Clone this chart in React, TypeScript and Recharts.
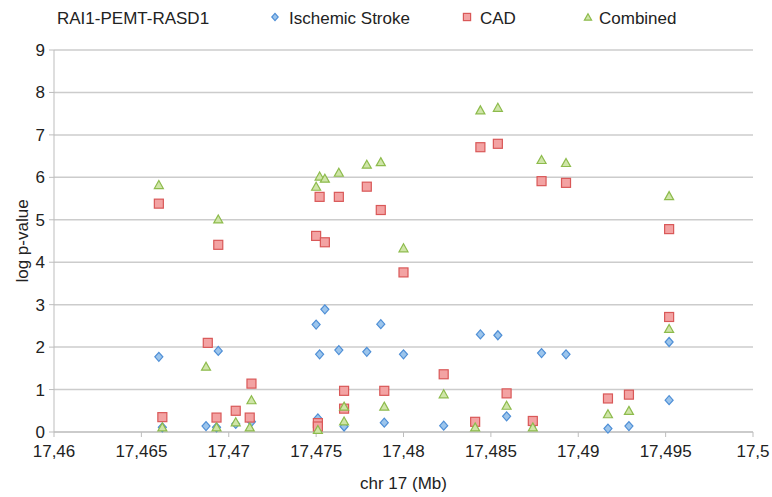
import React from "react";
import {
  ScatterChart,
  Scatter,
  XAxis,
  YAxis,
  CartesianGrid,
  Legend,
} from "recharts";

const TITLE = "RAI1-PEMT-RASD1";

const X_TICKS = [17.46, 17.465, 17.47, 17.475, 17.48, 17.485, 17.49, 17.495, 17.5];
const Y_TICKS = [0, 1, 2, 3, 4, 5, 6, 7, 8, 9];

// positions in Mb, values in log p
const strokeX = [
  17.466, 17.4662, 17.4687, 17.4694, 17.4693, 17.4704, 17.4713, 17.475, 17.4755,
  17.4752, 17.4763, 17.4751, 17.4766, 17.4779, 17.4787, 17.4789, 17.48, 17.4823,
  17.4841, 17.4844, 17.4854, 17.4859, 17.4874, 17.4879, 17.4893, 17.4917,
  17.4929, 17.4952, 17.4952,
];
const strokeY = [
  1.77, 0.11, 0.14, 1.91, 0.11, 0.19, 0.24, 2.53, 2.89, 1.83, 1.93, 0.32, 0.13,
  1.89, 2.54, 0.22, 1.83, 0.15, 0.2, 2.3, 2.28, 0.37, 0.18, 1.86, 1.83, 0.08,
  0.14, 2.12, 0.75,
];

const cadX = [
  17.466, 17.4662, 17.4688, 17.4694, 17.4693, 17.4704, 17.4713, 17.4712, 17.475,
  17.4755, 17.4752, 17.4763, 17.4751, 17.4751, 17.4766, 17.4766, 17.4779,
  17.4787, 17.4789, 17.48, 17.4823, 17.4841, 17.4844, 17.4854, 17.4859, 17.4874,
  17.4879, 17.4893, 17.4917, 17.4929, 17.4952, 17.4952,
];
const cadY = [
  5.38, 0.35, 2.1, 4.41, 0.34, 0.5, 1.14, 0.34, 4.62, 4.47, 5.54, 5.54, 0.21,
  0.13, 0.97, 0.55, 5.78, 5.23, 0.97, 3.76, 1.36, 0.24, 6.71, 6.79, 0.91, 0.26,
  5.91, 5.87, 0.79, 0.88, 4.78, 2.71,
];

const combinedX = [
  17.466, 17.4662, 17.4687, 17.4694, 17.4693, 17.4704, 17.4713, 17.4712, 17.475,
  17.4752, 17.4755, 17.4763, 17.4751, 17.4766, 17.4766, 17.4779, 17.4787,
  17.4789, 17.48, 17.4823, 17.4841, 17.4844, 17.4854, 17.4859, 17.4874, 17.4879,
  17.4893, 17.4917, 17.4929, 17.4952, 17.4952,
];
const combinedY = [
  5.83, 0.12, 1.55, 5.02, 0.12, 0.24, 0.76, 0.12, 5.79, 6.03, 5.98, 6.12, 0.06,
  0.61, 0.26, 6.31, 6.37, 0.61, 4.34, 0.9, 0.12, 7.59, 7.65, 0.63, 0.12, 6.42,
  6.35, 0.43, 0.51, 5.57, 2.44,
];

const zip = (xs: number[], ys: number[]) => xs.map((x, i) => ({ x, y: ys[i] }));

const FONT = '"Liberation Sans", Arial, sans-serif';

const COLORS = {
  stroke: { fill: "#9cc5ec", line: "#4f8fd6" },
  cad: { fill: "#f3a3a3", line: "#d95858" },
  combined: { fill: "#cfe5a8", line: "#8dbb4c" },
};

function Diamond({ cx, cy, s = 1 }: { cx: number; cy: number; s?: number }) {
  const w = 4 * s;
  const h = 4.5 * s;
  return (
    <path
      d={`M${cx},${cy - h}L${cx + w},${cy}L${cx},${cy + h}L${cx - w},${cy}Z`}
      fill={COLORS.stroke.fill}
      stroke={COLORS.stroke.line}
      strokeWidth={1.2}
    />
  );
}

function Square({ cx, cy, s = 1 }: { cx: number; cy: number; s?: number }) {
  const h = 4.5 * s;
  return (
    <rect
      x={cx - h}
      y={cy - h}
      width={2 * h}
      height={2 * h}
      fill={COLORS.cad.fill}
      stroke={COLORS.cad.line}
      strokeWidth={1.2}
    />
  );
}

function Triangle({ cx, cy, s = 1 }: { cx: number; cy: number; s?: number }) {
  const w = 4.5 * s;
  const h = 4 * s;
  return (
    <path
      d={`M${cx},${cy - h}L${cx + w},${cy + h}L${cx - w},${cy + h}Z`}
      fill={COLORS.combined.fill}
      stroke={COLORS.combined.line}
      strokeWidth={1.2}
    />
  );
}

// legend item placement (x of icon centre, x of text start)
const LEGEND_POS: Record<string, [number, number, any]> = {
  "Ischemic Stroke": [275, 289, Diamond],
  CAD: [467, 480, Square],
  Combined: [588, 599, Triangle],
};

function LegendContent(props: any) {
  const payload = props.payload || [];
  return (
    <div style={{ position: "relative", width: 772, height: 50, fontFamily: FONT, fontSize: 17, color: "#222" }}>
      <svg width={772} height={50} style={{ position: "absolute", left: 0, top: 0 }}>
        <text x={57} y={24} fill="#222" fontSize={17} fontFamily={FONT}>
          {TITLE}
        </text>
        {payload.map((p: any) => {
          const pos = LEGEND_POS[p.value];
          if (!pos) return null;
          const Icon = pos[2];
          return (
            <g key={p.value}>
              <Icon cx={pos[0]} cy={17} s={0.8} />
              <text x={pos[1]} y={24} fill="#222" fontSize={17} fontFamily={FONT}>
                {p.value}
              </text>
            </g>
          );
        })}
      </svg>
    </div>
  );
}

const tickStyle = { fill: "#222", fontSize: 17, fontFamily: FONT };

export default function App() {
  return (
    <div style={{ position: "absolute", left: 0, top: 0, width: 772, height: 497, background: "#fff" }}>
      <ScatterChart
        width={772}
        height={497}
        margin={{ top: 0, right: 19, left: 0, bottom: 0 }}
      >
        <CartesianGrid vertical={false} stroke="#cccccc" strokeWidth={1.5} />
        <XAxis
          type="number"
          dataKey="x"
          domain={[17.46, 17.5]}
          ticks={X_TICKS}
          interval={0}
          allowDataOverflow
          height={65}
          tick={tickStyle}
          tickFormatter={(v: number) => String(v).replace(".", ",")}
          tickSize={5}
          tickMargin={8}
          stroke="#bdbdbd"
          label={{
            value: "chr 17 (Mb)",
            position: "insideBottom",
            offset: 8,
            fill: "#222",
            fontSize: 17,
            fontFamily: FONT,
          }}
        />
        <YAxis
          type="number"
          dataKey="y"
          domain={[0, 9]}
          ticks={Y_TICKS}
          interval={0}
          width={54}
          tick={tickStyle}
          tickSize={5}
          tickMargin={4}
          stroke="#bdbdbd"
          label={{
            value: "log p-value",
            angle: -90,
            position: "center",
            dx: -5,
            fill: "#222",
            fontSize: 17,
            fontFamily: FONT,
          }}
        />
        <Legend
          verticalAlign="top"
          align="left"
          height={50}
          wrapperStyle={{ left: 0, top: 0, width: 772, height: 50 }}
          content={LegendContent}
        />
        <Scatter
          name="Ischemic Stroke"
          data={zip(strokeX, strokeY)}
          fill={COLORS.stroke.fill}
          isAnimationActive={false}
          shape={(p: any) => <Diamond cx={p.cx} cy={p.cy} />}
        />
        <Scatter
          name="CAD"
          data={zip(cadX, cadY)}
          fill={COLORS.cad.fill}
          isAnimationActive={false}
          shape={(p: any) => <Square cx={p.cx} cy={p.cy} />}
        />
        <Scatter
          name="Combined"
          data={zip(combinedX, combinedY)}
          fill={COLORS.combined.fill}
          isAnimationActive={false}
          shape={(p: any) => <Triangle cx={p.cx} cy={p.cy} />}
        />
      </ScatterChart>
    </div>
  );
}
